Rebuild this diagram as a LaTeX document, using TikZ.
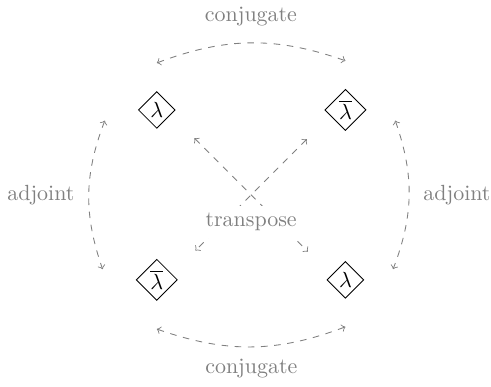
\documentclass[tikz,border=0pt]{standalone}
\usetikzlibrary{shapes.geometric}
\begin{document}
\begin{tikzpicture}[>=to,
  eig/.style={draw, diamond, inner sep=1pt},
  conn/.style={<->, dashed, gray},
  lbl/.style={text=gray}]
\useasboundingbox (-4.02,-3.07) rectangle (3.84,3.12);
% autovalores nos cantos
\node[eig] (TL) at (-1.51,1.36) {$\lambda$};
\node[eig] (TR) at (1.51,1.36) {$\overline{\lambda}$};
\node[eig] (BL) at (-1.51,-1.36) {$\overline{\lambda}$};
\node[eig] (BR) at (1.51,-1.36) {$\lambda$};
% conjugado (em cima e em baixo)
\draw[conn] ([yshift=0.45cm]TL.north) to[bend left=20]
  node[midway, above=4pt, lbl] {conjugate} ([yshift=0.45cm]TR.north);
\draw[conn] ([yshift=-0.45cm]BL.south) to[bend right=20]
  node[midway, below=2pt, lbl] {conjugate} ([yshift=-0.45cm]BR.south);
% adjunto (laterais)
\draw[conn] ([xshift=-0.53cm, yshift=-0.17cm]TL.west) to[bend right=20]
  node[midway, left=3pt, lbl] {adjoint} ([xshift=-0.53cm, yshift=0.17cm]BL.west);
\draw[conn] ([xshift=0.46cm, yshift=-0.17cm]TR.east) to[bend left=20]
  node[midway, right=3pt, lbl] {adjoint} ([xshift=0.46cm, yshift=0.17cm]BR.east);
% transposto (diagonais)
\draw[conn] ([shift={(0.45,-0.3)}]TL.south east) -- ([shift={(-0.45,0.3)}]BR.north west);
\draw[conn] ([shift={(-0.45,-0.3)}]TR.south west) -- ([shift={(0.45,0.3)}]BL.north east);
\node[lbl, fill=white] (tp) at (0,-0.43) {transpose};
\end{tikzpicture}
\end{document}
